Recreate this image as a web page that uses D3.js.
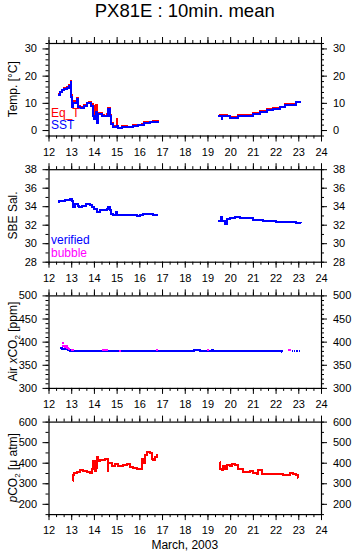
<!DOCTYPE html>
<html><head><meta charset="utf-8">
<script src="https://cdn.jsdelivr.net/npm/d3@7"></script>
<style>
body{margin:0;background:#fff}
text{font-family:"Liberation Sans",Arial,Helvetica,sans-serif}
</style>
</head><body>
<svg id="c" width="355" height="558"></svg>
<script>
// ---------- data ----------
const xDomain = [12, 24];
const dayTicks = [12,13,14,15,16,17,18,19,20,21,22,23,24];

const sst = [[12.40,13.0],[12.50,14.0],[12.59,14.6],[12.70,15.2],[12.80,15.6],[12.90,16.2],[12.97,17.7],[13.00,12.0],[13.03,8.4],[13.10,10.0],[13.25,11.5],[13.30,8.4],[13.40,8.2],[13.55,9.0],[13.70,9.9],[13.80,10.0],[13.86,8.7],[13.95,5.3],[14.00,4.1],[14.08,6.5],[14.13,2.6],[14.20,6.0],[14.35,5.3],[14.45,5.0],[14.57,5.3],[14.64,7.8],[14.70,5.3],[14.76,2.2],[14.86,1.2],[15.00,1.4],[15.08,0.6],[15.23,1.2],[15.45,1.0],[15.74,1.4],[15.96,1.7],[16.10,2.0],[16.20,2.7],[16.47,2.8],[16.60,3.0],[16.80,2.7],null,
[19.45,5.0],[19.55,5.3],[19.62,4.1],[19.66,5.3],[19.85,5.2],[20.00,4.5],[20.14,4.5],[20.36,5.3],[20.72,5.3],[21.00,6.0],[21.30,6.8],[21.60,7.4],[21.90,7.8],[22.20,8.4],[22.40,9.2],[22.78,9.3],[22.92,10.2],[23.14,10.2]];

const eqT = [[12.40,13.1],[12.50,14.1],[12.59,14.7],[12.70,15.3],[12.80,15.8],[12.90,16.4],[12.97,18.0],[13.00,12.8],[13.03,9.0],[13.10,10.5],[13.25,11.8],[13.30,8.8],[13.40,8.5],[13.55,9.3],[13.70,10.1],[13.80,10.2],[13.86,9.6],[13.95,9.0],[14.00,4.5],[14.08,9.2],[14.13,2.9],[14.20,6.3],[14.35,5.5],[14.45,5.3],[14.57,5.8],[14.64,8.0],[14.70,5.6],[14.76,2.5],[14.86,1.5],[15.00,4.0],[15.03,1.6],[15.08,0.9],[15.23,1.4],[15.45,1.2],[15.74,1.7],[15.96,2.0],[16.10,2.3],[16.20,2.9],[16.47,3.0],[16.60,3.2],[16.80,2.9],null,
[19.45,5.2],[19.55,5.5],[19.62,4.4],[19.66,5.5],[19.85,5.3],[20.00,4.7],[20.14,4.7],[20.36,5.4],[20.72,5.5],[21.00,6.2],[21.30,7.0],[21.60,7.6],[21.90,8.0],[22.20,8.6],[22.40,9.4],[22.78,9.5],[22.92,10.4],[23.14,10.4]];

const salinity = [[12.40,34.44],[12.45,34.60],[12.73,34.69],[12.95,34.76],[13.03,34.55],[13.06,33.90],[13.17,34.25],[13.28,34.07],[13.36,33.90],[13.47,34.07],[13.66,34.20],[13.83,34.15],[13.90,33.90],[14.00,33.70],[14.13,33.35],[14.27,33.60],[14.42,33.60],[14.57,33.70],[14.64,33.96],[14.70,33.60],[14.76,33.16],[14.86,33.00],[14.98,33.35],[15.00,33.00],[15.45,33.00],[15.90,32.90],[16.03,33.05],[16.18,33.16],[16.47,33.16],[16.60,33.00],[16.77,33.05],[16.82,33.05],null,
[19.45,32.36],[19.58,32.80],[19.62,32.40],[19.77,32.07],[19.85,32.60],[20.00,32.70],[20.20,32.80],[20.43,32.70],[21.00,32.55],[21.46,32.40],[22.04,32.33],[22.20,32.30],[22.63,32.33],[22.92,32.20],[23.14,32.18]];

const airCO2 = [[12.51,386],[12.58,384],[12.73,386],[12.80,384.5],[12.88,382.5],[12.95,380.3],[13.00,380],[18.40,382],[18.65,380],[19.20,381.5],[19.25,380],[22.24,380],[22.27,378.5],[22.30,378.5]];
const airCO2Dots = [[22.57,381.5],[22.74,380],[22.84,380],[22.95,380],[23.05,380]];
const bubble = [[12.63,396.8],[12.66,391],[12.73,388],[12.80,389.6],[12.84,386],[12.90,384],[13.03,382],[13.07,381],[14.40,382],[14.48,382],[14.56,382],[15.15,380.5],[16.78,381.5],[19.02,381.6],[22.62,382]];

const pCO2 = [[13.07,311],[13.08,339],[13.13,349],[13.25,357],[13.39,363],[13.54,360],[13.69,357],[13.83,352],[13.90,371],[13.98,409],[14.05,360],[14.10,376],[14.13,430],[14.20,406],[14.27,414],[14.42,414],[14.49,420],[14.60,360],[14.64,401],[14.79,384],[14.93,396],[15.08,384],[15.30,388],[15.45,393],[15.60,380],[15.74,376],[15.89,368],[16.03,368],[16.10,420],[16.18,401],[16.25,437],[16.33,450],[16.47,445],[16.55,417],[16.62,414],[16.69,430],[16.77,437],[16.80,437],null,
[19.55,404],[19.57,371],[19.62,363],[19.70,384],[19.77,368],[19.85,388],[20.00,384],[20.07,393],[20.20,388],[20.36,368],[20.57,355],[20.87,360],[21.00,352],[21.16,343],[21.24,363],[21.38,347],[21.60,343],[22.04,347],[22.34,339],[22.49,342],[22.63,352],[22.78,343],[22.92,339],[22.97,324],[23.00,324]];

const tempTicks = [0,10,20,30];
const salTicks = [28,30,32,34,36,38];
const airTicks = [300,350,400,450,500];
const pco2Ticks = [200,300,400,500,600];

// ---------- layout ----------
const svg = d3.select("#c");
const L = 48.5, R = 321, H = 92.5;
const tops = [43, 169.2, 295.4, 421.6];
const x = d3.scaleLinear().domain(xDomain).range([L, R]);
const minorDays = d3.range(12, 24.001, 1/3);

function panel(i, yDomain, major, minorStep) {
  const top = tops[i], bot = top + H;
  const y = d3.scaleLinear().domain(yDomain).range([bot, top]);
  const g = svg.append("g");
  const minorY = d3.range(yDomain[0], yDomain[1] + 1e-6, minorStep);
  const fs = "11px";
  const mk = (axis, tr, vals, size, labels, pad) => {
    const a = axis.tickValues(vals).tickSize(size).tickPadding(pad || 3);
    if (!labels) a.tickFormat("");
    const ag = g.append("g").attr("transform", tr).call(a);
    ag.select(".domain").remove();
    ag.selectAll("text").attr("font-size", fs).attr("font-family", '"Liberation Sans",Arial,sans-serif').attr("fill", "#000");
    ag.selectAll("line").attr("stroke", "#000");
  };
  // x axes
  mk(d3.axisBottom(x), `translate(0,${bot})`, minorDays, 3, false);
  mk(d3.axisBottom(x), `translate(0,${bot})`, dayTicks, 6, true, 6.2);
  mk(d3.axisTop(x), `translate(0,${top})`, minorDays, 3, false);
  mk(d3.axisTop(x), `translate(0,${top})`, dayTicks, 6, false);
  // y axes
  mk(d3.axisLeft(y), `translate(${L},0)`, minorY, 3, false);
  mk(d3.axisLeft(y), `translate(${L},0)`, major, 6, true, 5.5);
  mk(d3.axisRight(y), `translate(${R},0)`, minorY, 3, false);
  mk(d3.axisRight(y), `translate(${R},0)`, major, 6, true, 6);
  g.append("rect").attr("x", L + 0.5).attr("y", top + 0.5).attr("width", R - L).attr("height", H)
    .attr("fill", "none").attr("stroke", "#000").attr("stroke-width", 1.2);
  return {g, y, top, bot};
}

function drawLine(p, data, color, w) {
  const line = d3.line().defined(d => d !== null).x(d => x(d[0])).y(d => p.y(d[1])).curve(d3.curveStepAfter);
  p.g.append("path").datum(data).attr("d", line).attr("fill", "none").attr("stroke", color)
    .attr("stroke-width", w || 2).attr("shape-rendering", "crispEdges");
}
function drawDots(p, data, color, w, h) {
  p.g.selectAll(null).data(data).enter().append("rect")
    .attr("x", d => x(d[0]) - w / 2).attr("y", d => p.y(d[1]) - h / 2)
    .attr("width", w).attr("height", h).attr("fill", color).attr("shape-rendering", "crispEdges");
}
function yTitle(p, parts) {
  const t = p.g.append("text").attr("transform", `translate(17,${(p.top + p.bot) / 2}) rotate(-90)`)
    .attr("text-anchor", "middle").attr("font-size", "12px").attr("fill", "#000");
  parts.forEach(pt => {
    const s = t.append("tspan").text(pt.t);
    if (pt.i) s.attr("font-style", "italic");
    if (pt.sub) s.attr("font-size", "8px").attr("dy", "3");
    if (pt.up) s.attr("dy", "-3");
  });
}
function legend(p, txt, color, yb) {
  p.g.append("text").attr("x", 51).attr("y", yb).attr("font-size", "12px").attr("fill", color).text(txt);
}

// title
svg.append("text").attr("x", (L + R) / 2).attr("y", 17).attr("text-anchor", "middle")
  .attr("font-size", "18.5px").attr("fill", "#000").text("PX81E : 10min. mean");

// panel 1: temperature
const p1 = panel(0, [-2, 32], tempTicks, 2);
drawLine(p1, eqT, "#ff0000", 2);
drawLine(p1, sst, "#0000ff", 2);
yTitle(p1, [{t: "Temp. [°C]"}]);
legend(p1, "Eq_T", "#ff0000", 116.5);
legend(p1, "SST", "#0000ff", 129.3);

// panel 2: salinity
const p2 = panel(1, [28, 38], salTicks, 1);
drawLine(p2, salinity, "#0000ff", 2);
yTitle(p2, [{t: "SBE Sal."}]);
legend(p2, "verified", "#0000ff", 244);
legend(p2, "bubble", "#ff00ff", 256.5);

// panel 3: air xCO2
const p3 = panel(2, [300, 500], airTicks, 10);
drawLine(p3, airCO2, "#0000ff", 2);
drawDots(p3, airCO2Dots, "#0000ff", 1.5, 1.5);
drawDots(p3, bubble, "#ff00ff", 2.5, 2);
yTitle(p3, [{t: "Air "}, {t: "x", i: true}, {t: "CO"}, {t: "2", sub: true}, {t: " [ppm]", up: true}]);

// panel 4: pCO2
const p4 = panel(3, [150, 600], pco2Ticks, 50);
drawLine(p4, pCO2, "#ff0000", 2);
yTitle(p4, [{t: "p", i: true}, {t: "CO"}, {t: "2", sub: true}, {t: " [μ atm]", up: true}]);

svg.append("text").attr("x", (L + R) / 2).attr("y", 549).attr("text-anchor", "middle")
  .attr("font-size", "12px").attr("fill", "#000").text("March, 2003");
</script>
</body></html>
